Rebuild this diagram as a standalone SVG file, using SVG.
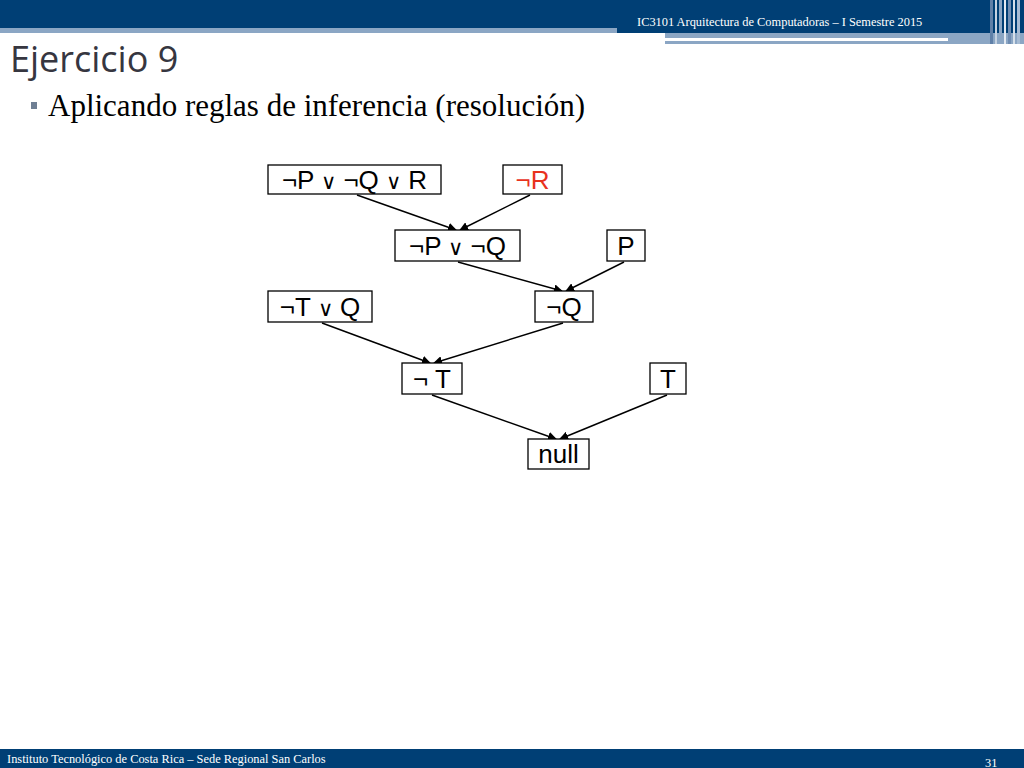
<svg xmlns="http://www.w3.org/2000/svg" width="1024" height="768" viewBox="0 0 1024 768">
<defs>
<style>
.box{fill:#fff;stroke:#000;stroke-width:1.3}
.lbl{font-family:"Liberation Sans",Arial,sans-serif;font-size:26px;fill:#000;text-anchor:middle}
.or{font-size:21px}
.edge{stroke:#000;stroke-width:1.5;fill:none;marker-end:url(#arr)}
.hdr{font-family:"Liberation Serif","Times New Roman",serif;font-size:12.4px;fill:#fff}
</style>
<marker id="arr" viewBox="0 0 10 10" refX="9" refY="5" markerWidth="9" markerHeight="9" orient="auto" markerUnits="userSpaceOnUse">
<path d="M0,0 L10,5 L0,10 z" fill="#000"/>
</marker>
</defs>
<rect width="1024" height="768" fill="#fff"/>
<g id="header">
<rect x="0" y="0" width="1024" height="28" fill="#003f75"/>
<rect x="0" y="28" width="617" height="5" fill="#8ba6c4"/>
<rect x="617" y="28" width="407" height="5" fill="#003f75"/>
<rect x="665" y="33" width="359" height="11" fill="#8ba6c4"/>
<rect x="665" y="38" width="283" height="3" fill="#fff"/>
<rect x="990" y="0" width="3" height="44" fill="#5f80a8"/>
<rect x="995" y="0" width="2" height="44" fill="#c6d3e2"/>
<rect x="999" y="0" width="3" height="44" fill="#8ba6c4"/>
<rect x="1004" y="0" width="2" height="44" fill="#e3eaf2"/>
<rect x="1008" y="0" width="3" height="44" fill="#6f8db2"/>
<rect x="1013" y="0" width="2" height="44" fill="#d6e0ea"/>
<rect x="1017" y="0" width="3" height="44" fill="#a7bcd4"/>
<text class="hdr" x="637" y="26">IC3101 Arquitectura de Computadoras – I Semestre 2015</text>
</g>
<g id="title">
<text x="10" y="72" font-family="'Open Sans','Liberation Sans',sans-serif" font-size="36" fill="#363640">Ejercicio 9</text>
<rect x="31" y="102" width="6" height="7" fill="#6f7f94"/>
<text x="48" y="116" font-family="'Liberation Serif','Times New Roman',serif" font-size="31" fill="#000">Aplicando reglas de inferencia (resolución)</text>
</g>
<g id="connectors">
<line class="edge" x1="357" y1="195" x2="456" y2="230"/>
<line class="edge" x1="530" y1="195" x2="460" y2="230"/>
<line class="edge" x1="458" y1="262" x2="562" y2="291"/>
<line class="edge" x1="624" y1="262" x2="566" y2="291"/>
<line class="edge" x1="322" y1="323" x2="430" y2="363"/>
<line class="edge" x1="563" y1="323" x2="434" y2="363"/>
<line class="edge" x1="432" y1="395" x2="556" y2="439"/>
<line class="edge" x1="667" y1="395" x2="560" y2="439"/>
</g>
<g id="n1"><rect class="box" x="268" y="165" width="173" height="29"/><text class="lbl" x="354.5" y="189">¬P <tspan class="or">∨</tspan> ¬Q <tspan class="or">∨</tspan> R</text></g>
<g id="n2"><rect class="box" x="503" y="165" width="59" height="29"/><text class="lbl" x="532.5" y="189" style="fill:#e8321e">¬R</text></g>
<g id="n3"><rect class="box" x="395" y="230" width="125" height="31"/><text class="lbl" x="457.5" y="255">¬P <tspan class="or">∨</tspan> ¬Q</text></g>
<g id="n4"><rect class="box" x="607" y="230" width="38" height="31"/><text class="lbl" x="626" y="255">P</text></g>
<g id="n5"><rect class="box" x="268" y="291" width="104" height="31"/><text class="lbl" x="320" y="316">¬T <tspan class="or">∨</tspan> Q</text></g>
<g id="n6"><rect class="box" x="535" y="291" width="58" height="31"/><text class="lbl" x="564" y="316">¬Q</text></g>
<g id="n7"><rect class="box" x="402" y="363" width="60" height="31"/><text class="lbl" x="432" y="388">¬ T</text></g>
<g id="n8"><rect class="box" x="650" y="363" width="36" height="31"/><text class="lbl" x="668" y="388">T</text></g>
<g id="n9"><rect class="box" x="528" y="439" width="61" height="30"/><text class="lbl" x="558.5" y="463">null</text></g>
<g id="footer">
<rect x="0" y="749" width="1024" height="19" fill="#003f75"/>
<text class="hdr" x="7" y="763">Instituto Tecnológico de Costa Rica – Sede Regional San Carlos</text>
<text class="hdr" x="985" y="767">31</text>
</g>
</svg>
